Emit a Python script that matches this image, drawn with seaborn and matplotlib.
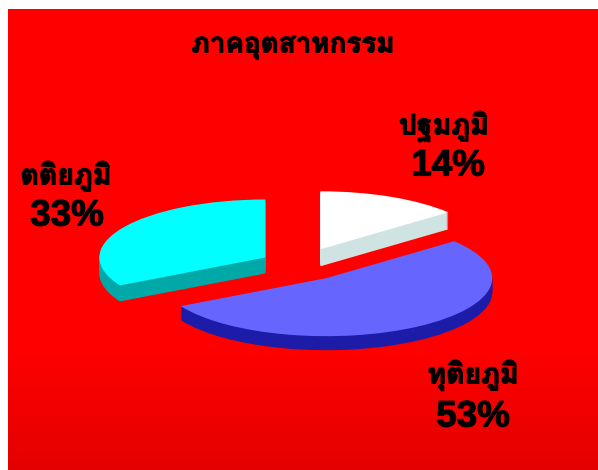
import numpy as np
import matplotlib
matplotlib.use('Agg')
import matplotlib.pyplot as plt
import matplotlib.patheffects as pe
import seaborn as sns

# ข้อมูล
labels = ['ปฐมภูมิ', 'ทุติยภูมิ', 'ตติยภูมิ']
shares = [14, 53, 33]
share_text = ['14%', '53%', '33%']
title = 'ภาคอุตสาหกรรม'
explode = [48.4, 47, 40]
depth = [17, 14, 16]
top_colors = ['#ffffff', '#6666ff', '#00ffff']
side_colors = ['#cfe3e3', '#1c1ca8', '#00a8a8']

sns.set_theme(style='white')
plt.rcParams['font.family'] = ['Loma', 'Liberation Sans', 'DejaVu Sans']

W, H = 598, 470
fig = plt.figure(figsize=(W / 100, H / 100), dpi=100, facecolor='white')

# background
bg = fig.add_axes([8 / W, 0, 590 / W, 1 - 9 / H])
grad = np.array([[255, 0, 0]] * 72 + [[255 - i, 0, 0] for i in range(0, 28)], dtype=np.uint8)
bg.imshow(grad[:, None, :], aspect='auto')
bg.axis('off')

# pie, y is squashed to get the tilted look
ax = fig.add_axes([0, 0, 1, 1], facecolor='none')
squash = 58 / 166
for d in range(max(depth), -1, -1):
    wedges, _ = ax.pie(shares, explode=explode, startangle=90, counterclock=False, radius=166,
                       center=(299.8, (H - 264.6 - d) / squash),
                       colors=side_colors if d else top_colors, wedgeprops={'linewidth': 0},
                       frame=True)
    for w, dep in zip(wedges, depth):
        w.set_visible(d <= dep)
ax.set_xlim(0, W)
ax.set_ylim(0, H / squash)
ax.set_aspect('auto')
ax.axis('off')

def put(x, y, s, size):
    is_pct = '%' in s
    t = ax.text(x, (H - y) / squash, s, fontsize=size, fontweight='bold', color='black',
                ha='center', va='center', family=['Liberation Sans'] if is_pct else ['Loma'])
    t.set_path_effects([pe.withStroke(linewidth=0.8, foreground='black')])

put(293, 47, title, 20)
put(444, 126, labels[0], 20.5)
put(448, 166, share_text[0], 26.5)
put(473, 375, labels[1], 20.5)
put(473, 417, share_text[1], 26.5)
put(66, 176, labels[2], 20.5)
put(67, 216, share_text[2], 26.5)

fig.savefig('out.png', dpi=100)
